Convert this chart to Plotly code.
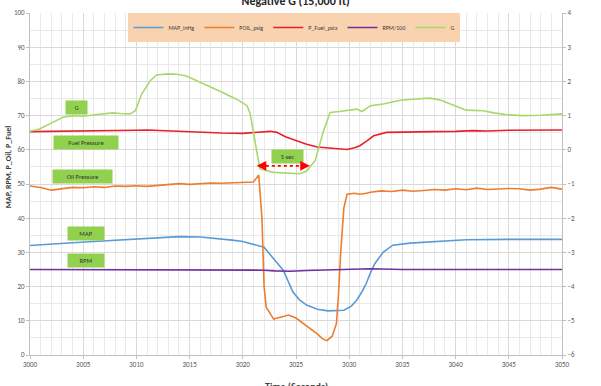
import plotly.graph_objects as go

# ---- data ----
map_t = [3000, 3002, 3004, 3006, 3008, 3010, 3012, 3014, 3016, 3018, 3019, 3020, 3021, 3022,
         3022.8, 3023.8, 3024.7, 3025.3, 3026, 3027, 3028, 3029, 3029.5, 3030.2, 3030.7, 3031.2,
         3031.6, 3032.0, 3032.4, 3033.2, 3034.1, 3035.7, 3038, 3041, 3045, 3050]
map_v = [32.0, 32.3, 32.8, 33.2, 33.6, 34.0, 34.4, 34.6, 34.5, 34.0, 33.6, 33.2, 32.4, 31.5,
         28.5, 24.8, 18.5, 16.2, 14.6, 13.4, 12.9, 12.9, 13.1, 14.3, 16.0, 18.5,
         20.9, 24.0, 26.7, 30.1, 32.1, 32.7, 33.2, 33.7, 33.8, 33.8]

poil_t = [3000, 3001, 3002, 3003, 3004, 3005, 3006, 3007, 3008, 3009, 3010, 3011, 3012, 3013,
          3014, 3015, 3016, 3017, 3018, 3019, 3020, 3021, 3021.5, 3021.8, 3022.0, 3022.2,
          3022.9, 3023.6, 3024.3, 3025, 3026, 3027, 3027.5, 3027.9, 3028.4, 3028.8, 3029.0,
          3029.2, 3029.5, 3029.8, 3030.5, 3031, 3031.6, 3032, 3033, 3034, 3035, 3036, 3037,
          3038, 3039, 3040, 3041, 3042, 3043, 3044, 3045, 3046, 3047, 3048, 3049, 3050]
poil_v = [49.4, 49.0, 48.2, 48.6, 49.0, 48.9, 49.2, 49.0, 49.4, 49.3, 49.5, 49.3, 49.6, 49.9,
          50.1, 49.9, 50.2, 50.3, 50.2, 50.4, 50.4, 50.6, 52.6, 40.0, 20.0, 14.0,
          10.5, 11.2, 11.7, 10.8, 8.6, 6.2, 4.7, 4.2, 5.5, 9.2, 18.0,
          30.0, 43.0, 47.0, 47.3, 47.0, 47.3, 47.6, 48.0, 47.8, 48.2, 47.9, 48.1,
          48.4, 48.2, 48.6, 48.3, 48.8, 48.4, 48.6, 48.7, 48.6, 48.2, 48.5, 49.0, 48.5]

fuel_t = [3000, 3005, 3010, 3011, 3013, 3016, 3018, 3020, 3021.5, 3022.6, 3023.2, 3024, 3025,
          3026, 3027, 3028, 3029, 3029.8, 3030.5, 3031, 3031.7, 3032.3, 3033.5, 3036, 3038,
          3040, 3041.6, 3043, 3045, 3050]
fuel_v = [65.3, 65.4, 65.7, 65.8, 65.5, 65.1, 64.9, 64.8, 65.2, 65.4, 65.1, 63.8, 62.7,
          61.6, 60.8, 60.5, 60.2, 60.1, 60.6, 61.2, 62.7, 64.1, 65.1, 65.1, 65.3,
          65.4, 65.6, 65.5, 65.7, 65.8]

rpm_t = [3000, 3010, 3018, 3020, 3022, 3023, 3024.5, 3026, 3028, 3030, 3032, 3035, 3040, 3050]
rpm_v = [25.0, 25.0, 24.9, 24.9, 24.8, 24.6, 24.5, 24.7, 24.9, 25.1, 25.2, 25.0, 25.0, 25.0]

g_t = [3000, 3000.9, 3002, 3003.1, 3004.1, 3005, 3006.3, 3007.8, 3008.5, 3009.4, 3009.9,
       3010.5, 3011.3, 3011.9, 3013, 3013.8, 3014.7, 3015.7, 3016.5, 3017.2, 3018.2, 3019.4,
       3020.4, 3020.7, 3021, 3021.3, 3021.6, 3022.9, 3024, 3025.4, 3026, 3026.6, 3026.8,
       3027.6, 3028.2, 3029.1, 3030, 3030.7, 3031.2, 3032, 3033.2, 3034, 3034.8, 3036,
       3037.6, 3038.5, 3039.2, 3040, 3041, 3042.6, 3043.6, 3045, 3046.4, 3048, 3049, 3050]
g_v = [0.54, 0.61, 0.78, 0.95, 1.0, 0.98, 1.03, 1.08, 1.06, 1.05, 1.14,
       1.63, 2.02, 2.19, 2.22, 2.21, 2.16, 2.02, 1.90, 1.82, 1.66, 1.48,
       1.29, 1.05, 0.51, -0.02, -0.56, -0.66, -0.68, -0.70, -0.62, -0.41, -0.31,
       0.56, 1.09, 1.12, 1.15, 1.19, 1.12, 1.29, 1.34, 1.40, 1.45, 1.48,
       1.51, 1.46, 1.38, 1.28, 1.16, 1.14, 1.08, 1.02, 1.0, 1.01, 1.04, 1.05]

series_names = ["MAP_inHg", "POIL_psig", "P_Fuel_psia", "RPM/100", "G"]
series_colors = ["#5B9BD5", "#ED7D31", "#E8202A", "#7030A0", "#A6D96A"]

FONT = "Carlito, Liberation Sans, Arial"
TXT = "#404040"

fig = go.Figure()
data = [(map_t, map_v, "y"), (poil_t, poil_v, "y"), (fuel_t, fuel_v, "y"),
        (rpm_t, rpm_v, "y"), (g_t, g_v, "y2")]
for (t, v, ax), name, col in zip(data, series_names, series_colors):
    fig.add_trace(go.Scatter(x=t, y=v, name=name, mode="lines", yaxis=ax,
                             line=dict(color=col, width=1.6)))

grid_major = "#D9D9D9"
grid_minor = "#E9E9E9"
axis_col = "#BFBFBF"

fig.update_layout(
    width=601, height=386,
    margin=dict(l=30, r=39, t=8, b=31),
    paper_bgcolor="white", plot_bgcolor="white",
    font=dict(family=FONT, size=7, color=TXT),
    title=dict(text="<b>Negative G (15,000 ft)</b>", x=0.492, xanchor="center",
               y=0.999, yref="container", yanchor="middle",
               font=dict(size=12, color="#262626")),
    showlegend=True,
    legend=dict(orientation="h", x=0.497, xanchor="center", y=1.0, yanchor="top",
                bgcolor="#F9D2B0", font=dict(size=6, color=TXT),
                itemwidth=30, tracegroupgap=0),
    xaxis=dict(range=[3000, 3050], dtick=5, tick0=3000, showgrid=True,
               gridcolor=grid_major, gridwidth=1,
               minor=dict(dtick=1, showgrid=True, gridcolor=grid_minor, ticks=""),
               zeroline=False, showline=True, linecolor=axis_col, linewidth=1,
               ticks="outside", ticklen=3, tickcolor=axis_col,
               tickfont=dict(size=7, color="#595959")),
    yaxis=dict(range=[0, 100], dtick=10, showgrid=True, gridcolor=grid_major,
               minor=dict(dtick=5, showgrid=True, gridcolor=grid_minor, ticks=""),
               zeroline=False, showline=True, linecolor=axis_col, linewidth=1,
               ticks="outside", ticklen=3, tickcolor=axis_col,
               tickfont=dict(size=7, color="#595959")),
    yaxis2=dict(range=[-6, 4], dtick=1, overlaying="y", side="right",
                showgrid=False, zeroline=False, showline=True, linecolor=axis_col,
                linewidth=1, ticks="outside", ticklen=3, tickcolor=axis_col,
                tickfont=dict(size=7, color="#595959")),
)

# axis titles (partially cropped in the reference)
fig.add_annotation(text="<b>MAP, RPM, P_Oil, P_Fuel</b>", xref="paper", yref="paper",
                   x=-0.054, y=0.55, textangle=-90, showarrow=False,
                   font=dict(size=8, color="#404040"))
fig.add_annotation(text="<b>Time (Seconds)</b>", xref="paper", yref="paper",
                   x=0.5, y=-0.092, yanchor="middle", showarrow=False,
                   font=dict(size=10, color="#404040"))

# green callout boxes
boxes = [("G", 3004.4, 72.4, 19), ("Fuel Pressure", 3005.3, 62.2, 62),
         ("Oil Pressure", 3004.9, 52.1, 57), ("MAP", 3005.3, 35.4, 34),
         ("RPM", 3005.3, 27.6, 34), ("5 sec", 3024.2, 58.1, 29)]
for txt, bx, by, w in boxes:
    fig.add_annotation(text=txt, x=bx, y=by, xref="x", yref="y", showarrow=False,
                       bgcolor="#92D050", width=w, height=11, borderpad=1,
                       font=dict(size=6.5, color="#303030"))

# dashed red double arrow for "5 sec"
fig.add_shape(type="line", x0=3021.6, x1=3026.0, y0=55.3, y1=55.3, xref="x", yref="y",
              line=dict(color="#FF0000", width=1.6, dash="dot"))
for tip, tail in [(3021.3, 3022.3), (3026.3, 3025.3)]:
    fig.add_annotation(x=tip, y=55.3, ax=tail, ay=55.3, xref="x", yref="y",
                       axref="x", ayref="y", text="", showarrow=True,
                       arrowhead=2, arrowsize=1.2, arrowwidth=1.6, arrowcolor="#FF0000")

fig.write_html("out.html")
